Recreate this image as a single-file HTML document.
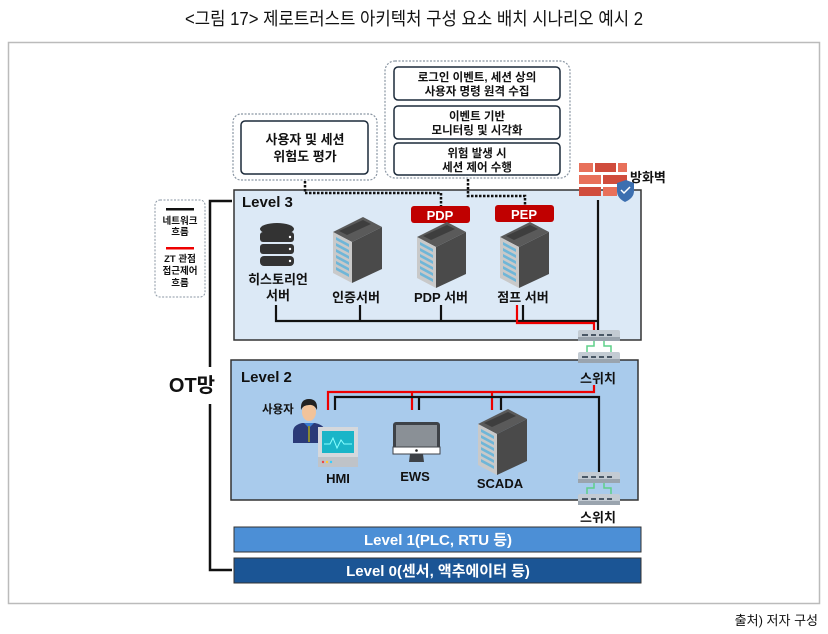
<!DOCTYPE html>
<html><head><meta charset="utf-8"><style>
body{margin:0;width:828px;height:634px;background:#fff;overflow:hidden}
svg{display:block}
text{font-family:"Liberation Sans","Noto Sans CJK KR",sans-serif;font-weight:bold;fill:#111}
</style></head><body>
<svg width="828" height="634" viewBox="0 0 828 634">
<defs>
<g id="srv">
<polygon points="0,15 30,0 49,10 19,25" fill="#5a5a5a"/>
<polygon points="6,14 30,3 38,7 14,18" fill="#3e3e3e"/>
<polygon points="0,15 19,25 19,66 0,56" fill="#c9c9c9"/>
<g fill="#6fb6d8">
<polygon points="3,20 16,27 16,30 3,23"/><polygon points="3,26 16,33 16,36 3,29"/>
<polygon points="3,32 16,39 16,42 3,35"/><polygon points="3,38 16,45 16,48 3,41"/>
<polygon points="3,44 16,51 16,54 3,47"/><polygon points="3,50 16,57 16,60 3,53"/>
</g>
<polygon points="19,25 49,10 49,52 19,66" fill="#4a4a4a"/>
</g>
<g id="sw">
<rect x="0" y="0" width="42" height="11" rx="2" fill="#c3cbd3"/>
<rect x="0" y="7" width="42" height="4" fill="#9aa4ae"/>
<g fill="#4a5866"><rect x="4" y="4" width="6" height="2"/><rect x="13" y="4" width="5" height="2"/><rect x="21" y="4" width="5" height="2"/><rect x="29" y="4" width="5" height="2"/></g>
<path d="M16,11 V16 H9 V22 M26,11 V16 H33 V22" stroke="#5fd08a" stroke-width="1.5" fill="none"/>
<rect x="0" y="22" width="42" height="11" rx="2" fill="#c3cbd3"/>
<rect x="0" y="29" width="42" height="4" fill="#9aa4ae"/>
<g fill="#4a5866"><rect x="4" y="26" width="6" height="2"/><rect x="13" y="26" width="5" height="2"/><rect x="21" y="26" width="5" height="2"/><rect x="29" y="26" width="5" height="2"/></g>
</g>
</defs>

<text x="414" y="25" text-anchor="middle" font-size="18" style="font-weight:normal" textLength="458" lengthAdjust="spacingAndGlyphs">&lt;그림 17&gt; 제로트러스트 아키텍처 구성 요소 배치 시나리오 예시 2</text>
<rect x="8.5" y="42.5" width="811" height="561" fill="#fff" stroke="#bbb" stroke-width="1.5"/>
<text x="818" y="625" text-anchor="end" font-size="13" style="font-weight:normal">출처) 저자 구성</text>

<!-- top boxes -->
<rect x="233" y="114" width="144" height="66" rx="8" fill="#fff" stroke="#8a96a3" stroke-width="1.2" stroke-dasharray="2,1.5"/>
<rect x="241" y="121" width="127" height="53" rx="4" fill="#fff" stroke="#1c2a3a" stroke-width="1.5"/>
<text x="305" y="144" text-anchor="middle" font-size="13">사용자 및 세션</text>
<text x="305" y="161" text-anchor="middle" font-size="13">위험도 평가</text>

<rect x="385" y="61" width="185" height="117" rx="10" fill="#fff" stroke="#8a96a3" stroke-width="1.2" stroke-dasharray="2,1.5"/>
<rect x="394" y="67" width="166" height="33" rx="4" fill="#fff" stroke="#1c2a3a" stroke-width="1.5"/>
<rect x="394" y="106" width="166" height="33" rx="4" fill="#fff" stroke="#1c2a3a" stroke-width="1.5"/>
<rect x="394" y="143" width="166" height="32" rx="4" fill="#fff" stroke="#1c2a3a" stroke-width="1.5"/>
<g font-size="11.5" text-anchor="middle">
<text x="477" y="81">로그인 이벤트, 세션 상의</text>
<text x="477" y="95">사용자 명령 원격 수집</text>
<text x="477" y="120">이벤트 기반</text>
<text x="477" y="134">모니터링 및 시각화</text>
<text x="477" y="157">위험 발생 시</text>
<text x="477" y="171">세션 제어 수행</text>
</g>

<!-- Level 3 -->
<rect x="234" y="190" width="407" height="150" fill="#dce9f6" stroke="#333" stroke-width="1.5"/>
<text x="242" y="207" font-size="15">Level 3</text>
<path d="M305,181 V193 H441 V206 M468,179 V196 H525 V206" stroke="#111" stroke-width="2.5" stroke-dasharray="2.5,1.5" fill="none"/>

<rect x="411" y="206" width="59" height="17" rx="3" fill="#c00000"/>
<text x="440" y="220" text-anchor="middle" font-size="13" style="fill:#fff">PDP</text>
<rect x="495" y="205" width="59" height="17" rx="3" fill="#c00000"/>
<text x="524" y="219" text-anchor="middle" font-size="13" style="fill:#fff">PEP</text>

<!-- DB -->
<g fill="#333">
<ellipse cx="277" cy="229" rx="17" ry="6"/>
<rect x="260" y="232" width="34" height="10" rx="3"/>
<rect x="260" y="244" width="34" height="10" rx="3"/>
<rect x="260" y="256" width="34" height="10" rx="4"/>
</g>
<g fill="#fff"><circle cx="290" cy="237" r="1.2"/><circle cx="290" cy="249" r="1.2"/><circle cx="290" cy="261" r="1.2"/></g>

<use href="#srv" x="333" y="217"/>
<use href="#srv" x="417" y="222"/>
<use href="#srv" x="500" y="222"/>

<g font-size="13" text-anchor="middle">
<text x="278" y="284">히스토리언</text>
<text x="278" y="300">서버</text>
<text x="356" y="302">인증서버</text>
<text x="441" y="302">PDP 서버</text>
<text x="523" y="302">점프 서버</text>
</g>
<path d="M276,305 V321 H598 M360,305 V321 M441,305 V321 M523,305 V321 M598,200 V331" stroke="#111" stroke-width="2.2" fill="none"/>
<path d="M517,305 V323 H594 V331" stroke="#e00" stroke-width="2.2" fill="none"/>

<!-- firewall -->
<g>
<rect x="579" y="163" width="14" height="9" fill="#e8705a"/><rect x="595" y="163" width="21" height="9" fill="#d04c3c"/><rect x="618" y="163" width="9" height="9" fill="#e8705a"/>
<rect x="579" y="175" width="22" height="9" fill="#e8705a"/><rect x="603" y="175" width="24" height="9" fill="#d04c3c"/>
<rect x="579" y="187" width="22" height="9" fill="#d04c3c"/><rect x="603" y="187" width="14" height="9" fill="#e8705a"/>
<path d="M617,183 L626,180 L634,183 V191 Q634,198 625,202 Q617,198 617,191 Z" fill="#3c6fb0"/>
<path d="M621,190 L624,193 L630,187" stroke="#fff" stroke-width="1.5" fill="none"/>
</g>
<text x="630" y="182" font-size="13">방화벽</text>

<!-- Level 2 -->
<rect x="231" y="360" width="407" height="140" fill="#a9cbec" stroke="#333" stroke-width="1.5"/>
<text x="241" y="382" font-size="15">Level 2</text>

<use href="#sw" x="578" y="330"/>
<text x="598" y="383" text-anchor="middle" font-size="13">스위치</text>

<path d="M328,410 V392 H594 V385 M412,410 V392 M492,410 V392" stroke="#e00" stroke-width="2.2" fill="none"/>
<path d="M335,410 V397 H599 V473 M419,410 V397 M501,410 V397" stroke="#111" stroke-width="2.2" fill="none"/>

<text x="262" y="413" font-size="11.5">사용자</text>
<!-- person -->
<path d="M293,443 V432 Q293,425 302,423 L315,423 Q325,425 325,432 V443 Z" fill="#2a3a78"/>
<path d="M304,423 L309,428 L314,423" fill="#3a7bd0"/>
<rect x="308" y="426" width="2" height="16" fill="#8a8a30"/>
<ellipse cx="309" cy="412" rx="7" ry="9" fill="#f2c39a"/>
<path d="M301,410 Q300,399 309,399 Q318,399 317,410 Q314,404 309,405 Q303,405 301,410Z" fill="#222"/>
<!-- HMI -->
<rect x="318" y="427" width="40" height="30" fill="#d5d8dc"/>
<rect x="322" y="431" width="32" height="22" fill="#1ab5c8"/>
<path d="M324,444 L330,444 L333,438 L337,448 L341,440 L344,444 L352,444" stroke="#8ff" stroke-width="1" fill="none"/>
<rect x="318" y="457" width="40" height="10" fill="#bfc3c8"/>
<circle cx="323" cy="462" r="1.2" fill="#e44"/><circle cx="327" cy="462" r="1.2" fill="#fc3"/><circle cx="331" cy="462" r="1.2" fill="#3cf"/>
<text x="338" y="483" text-anchor="middle" font-size="13">HMI</text>
<!-- EWS -->
<rect x="393" y="422" width="47" height="32" rx="3" fill="#3e4247"/>
<rect x="396" y="425" width="41" height="22" fill="#8a9096"/>
<rect x="393" y="447" width="47" height="7" fill="#fff" stroke="#3e4247" stroke-width="1"/>
<circle cx="416.5" cy="450.5" r="1.3" fill="#222"/>
<path d="M410,454 L409,462 H424 L423,454Z" fill="#3e4247"/>
<text x="415" y="481" text-anchor="middle" font-size="13">EWS</text>
<use href="#srv" x="478" y="409"/>
<text x="500" y="488" text-anchor="middle" font-size="13">SCADA</text>

<use href="#sw" x="578" y="472"/>
<text x="598" y="522" text-anchor="middle" font-size="13">스위치</text>

<!-- Level 1 & 0 -->
<rect x="234" y="527" width="407" height="25" fill="#4c8fd6" stroke="#333" stroke-width="1"/>
<text x="438" y="545" text-anchor="middle" font-size="15" style="fill:#fff">Level 1(PLC, RTU 등)</text>
<rect x="234" y="558" width="407" height="25" fill="#1b5595" stroke="#333" stroke-width="1"/>
<text x="438" y="576" text-anchor="middle" font-size="15" style="fill:#fff">Level 0(센서, 액추에이터 등)</text>

<!-- OT line -->
<path d="M232,201 H210 V367 M210,404 V570 H232" stroke="#111" stroke-width="2.5" fill="none"/>
<text x="192" y="392" text-anchor="middle" font-size="20">OT망</text>

<!-- legend -->
<rect x="155" y="200" width="50" height="97" rx="5" fill="#fff" stroke="#8a96a3" stroke-width="1" stroke-dasharray="2,1.5"/>
<rect x="166" y="208" width="28" height="2.5" fill="#111"/>
<g font-size="9.5" text-anchor="middle">
<text x="180" y="224">네트워크</text><text x="180" y="235">흐름</text>
<text x="180" y="262">ZT 관점</text><text x="180" y="274">접근제어</text><text x="180" y="286">흐름</text>
</g>
<rect x="166" y="247" width="28" height="2.5" fill="#e00"/>
</svg>
</body></html>
